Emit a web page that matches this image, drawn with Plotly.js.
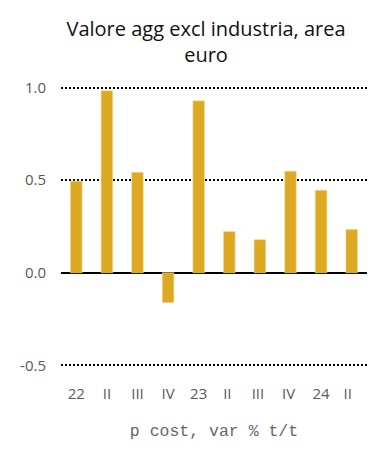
<!DOCTYPE html>
<html><head><meta charset="utf-8">
<script src="https://cdn.plot.ly/plotly-3.0.1.min.js"></script>
<style>html,body{margin:0;padding:0;background:#fff}#c{width:391px;height:456px}</style>
</head><body><div id="c"></div>
<script>
var categories = ["22","II","III","IV","23","II ","III ","IV ","24","II  "];
var values = [0.495, 0.984, 0.543, -0.161, 0.929, 0.223, 0.179, 0.549, 0.446, 0.234];
var yTicks = [-0.5, 0.0, 0.5, 1.0];
var yTickText = ["-0.5", "0.0", "0.5", "1.0"];

var trace = {
  type: "bar", x: categories, y: values,
  marker: {color: "#DDA923", line: {color: "#F3DCA0", width: 0.6}},
  hoverinfo: "skip"
};
var layout = {
  width: 391, height: 456,
  margin: {l: 61, r: 24, t: 84, b: 87},
  paper_bgcolor: "#fff", plot_bgcolor: "#fff",
  bargap: 0.62,
  showlegend: false,
  title: {text: "Valore agg excl industria, area<br>euro", x: 0.527, xanchor: "center", y: 0.92, yanchor: "top",
          font: {family: "Open Sans, Liberation Sans, sans-serif", size: 20, color: "#111"}},
  xaxis: {type: "category", showgrid: false, zeroline: false, showline: false, ticks: "",
          ticklabelstandoff: 14,
          tickfont: {family: "Open Sans, Liberation Sans, sans-serif", size: 15, color: "#595959"},
          title: {text: "p cost, var % t/t", standoff: 22, font: {family: "Liberation Mono, DejaVu Sans Mono, monospace", size: 16.5, color: "#666666"}}},
  yaxis: {range: [-0.52, 1.02], tickvals: yTicks, ticktext: yTickText, showgrid: true,
          gridcolor: "#000", griddash: "2px,2px", gridwidth: 2,
          zeroline: true, zerolinecolor: "#000", zerolinewidth: 2,
          ticks: "", ticklabelstandoff: 14,
          tickfont: {family: "Open Sans, Liberation Sans, sans-serif", size: 15, color: "#595959"}}
};
Plotly.newPlot("c", [trace], layout, {displayModeBar: false, staticPlot: true});
</script></body></html>
